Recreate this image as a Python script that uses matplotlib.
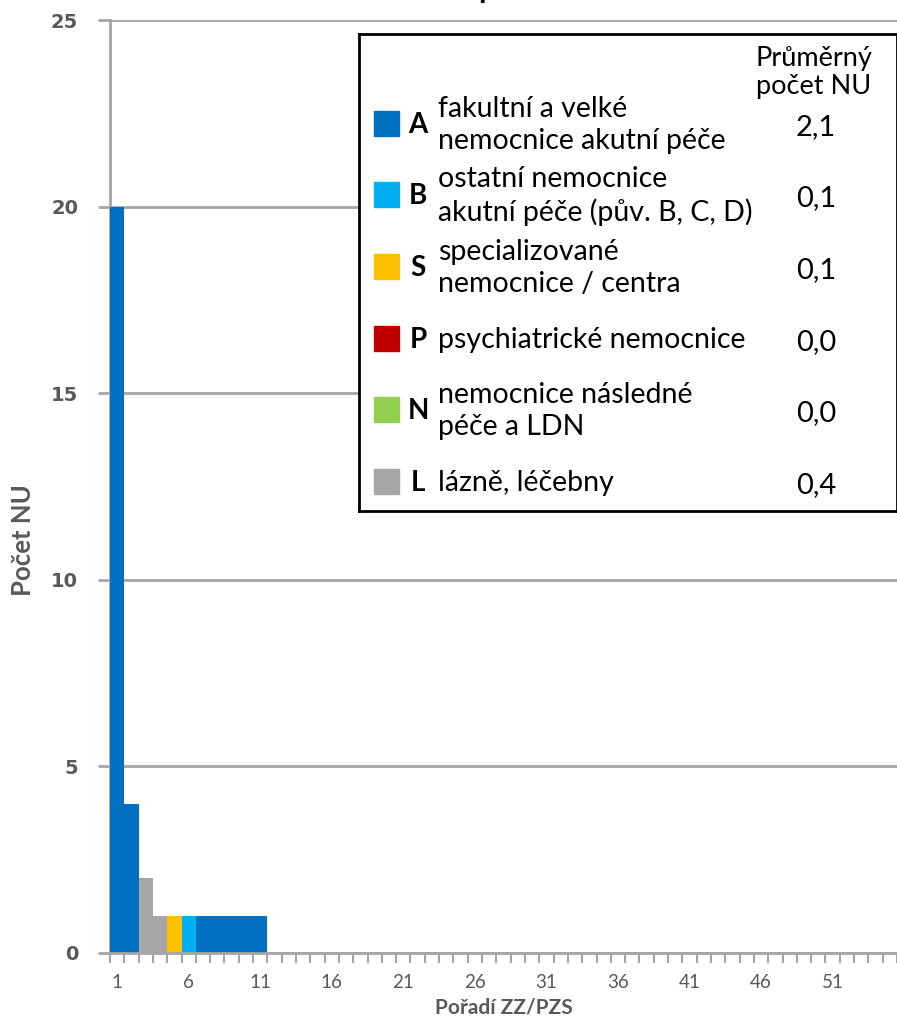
import matplotlib
matplotlib.use("Agg")
import matplotlib.pyplot as plt
from matplotlib.patches import Rectangle

# ---------------- data ----------------
ranks = list(range(1, 56))
counts = [20, 4, 2, 1, 1, 1, 1, 1, 1, 1, 1,
          0, 0, 0, 0, 0, 0, 0, 0, 0, 0, 0, 0, 0, 0, 0, 0, 0, 0, 0, 0, 0, 0,
          0, 0, 0, 0, 0, 0, 0, 0, 0, 0, 0, 0, 0, 0, 0, 0, 0, 0, 0, 0, 0, 0]
types = ['A', 'A', 'L', 'L', 'S', 'B', 'A', 'A', 'A', 'A', 'A',
         'A', 'A', 'A', 'A', 'A', 'A', 'A', 'A', 'A', 'A', 'A', 'A', 'A', 'A', 'A', 'A', 'A', 'A', 'A', 'A', 'A', 'A',
         'A', 'A', 'A', 'A', 'A', 'A', 'A', 'A', 'A', 'A', 'A', 'A', 'A', 'A', 'A', 'A', 'A', 'A', 'A', 'A', 'A', 'A']

legend_codes = ['A', 'B', 'S', 'P', 'N', 'L']
legend_labels = ['fakultní a velké\nnemocnice akutní péče',
                 'ostatní nemocnice\nakutní péče (pův. B, C, D)',
                 'specializované\nnemocnice / centra',
                 'psychiatrické nemocnice',
                 'nemocnice následné\npéče a LDN',
                 'lázně, léčebny']
legend_avgs = ['2,1', '0,1', '0,1', '0,0', '0,0', '0,4']
type_colors = {'A': '#0070C0', 'B': '#00B0F0', 'S': '#FFC000',
               'P': '#C00000', 'N': '#92D050', 'L': '#A6A6A6'}

xtick_labels = [1, 6, 11, 16, 21, 26, 31, 36, 41, 46, 51]
ytick_values = [0, 5, 10, 15, 20, 25]

W, H = 897, 1016
GRAY = '#595959'
AX_GRAY = '#A6A6A6'
FONT = 'Lato'

fig = plt.figure(figsize=(W / 100, H / 100), dpi=100)
ax = fig.add_axes([110 / W, (H - 953) / H, (W - 110) / W, (953 - 20) / H])

ax.bar(ranks, counts, width=1.0, color=[type_colors[t] for t in types],
       edgecolor='none', zorder=3)

ax.set_xlim(0.5, 55.5)
ax.set_ylim(0, 25)

# gridlines
ax.set_yticks(ytick_values)
ax.yaxis.grid(True, color=AX_GRAY, linewidth=2, zorder=0)
ax.set_axisbelow(True)
ax.set_yticklabels([str(v) for v in ytick_values], fontsize=14,
                   fontweight='bold', color=GRAY, family='DejaVu Sans')
ax.tick_params(axis='y', length=9, width=2, color=AX_GRAY, pad=14)

# x ticks
ax.set_xticks(xtick_labels)
ax.set_xticklabels([str(v) for v in xtick_labels], fontsize=13.5,
                   color=GRAY, family=FONT)
ax.tick_params(axis='x', which='major', length=0, pad=15)
ax.set_xticks([i + 0.5 for i in range(0, 56)], minor=True)
ax.tick_params(axis='x', which='minor', length=7, width=1.5, color=AX_GRAY)

for s in ['top', 'right']:
    ax.spines[s].set_visible(False)
for s in ['left', 'bottom']:
    ax.spines[s].set_color(AX_GRAY)
    ax.spines[s].set_linewidth(2)
ax.spines['bottom'].set_zorder(4)

ax.set_ylabel('Počet NU', fontsize=18.5, fontweight='bold', color=GRAY,
              family=FONT)
ax.yaxis.set_label_coords(-0.095, (953 - 540) / 933)
ax.set_xlabel('Pořadí ZZ/PZS', fontsize=15, fontweight='bold', color=GRAY,
              family=FONT)
ax.xaxis.set_label_coords(0.5, -0.048)

# clipped title descender
fig.text(487 / W, 1 + 1.5 / H, 'p', fontsize=22, fontweight='bold',
         ha='center', va='baseline', family=FONT, color='black')

# ---------------- legend box ----------------
lx0, lx1, ly0, ly1 = 359, 897, 34, 511
lax = fig.add_axes([lx0 / W, (H - ly1) / H, (lx1 - lx0) / W, (ly1 - ly0) / H])
lax.set_xlim(lx0, lx1)
lax.set_ylim(ly1, ly0)
lax.set_xticks([])
lax.set_yticks([])
for s in lax.spines.values():
    s.set_color('black')
    s.set_linewidth(2)
lax.set_zorder(5)

lax.text(814, 73, 'Průměrný\npočet NU', fontsize=19.5, family=FONT,
         ha='center', va='center', linespacing=1.15, color='black')

row_y = [124, 195, 267, 339, 410, 482]
for code, label, avg, y in zip(legend_codes, legend_labels, legend_avgs, row_y):
    lax.add_patch(Rectangle((374, y - 12.5), 25, 25, color=type_colors[code]))
    lax.text(418, y + 1, code, fontsize=20, fontweight='bold', family=FONT,
             ha='center', va='center')
    lax.text(438, y + 1, label, fontsize=20.5, family=FONT, ha='left',
             va='center', linespacing=1.3)
    lax.text(816, y + 3, avg, fontsize=21, family=FONT, ha='center', va='center')

fig.savefig('out.png', dpi=100)
